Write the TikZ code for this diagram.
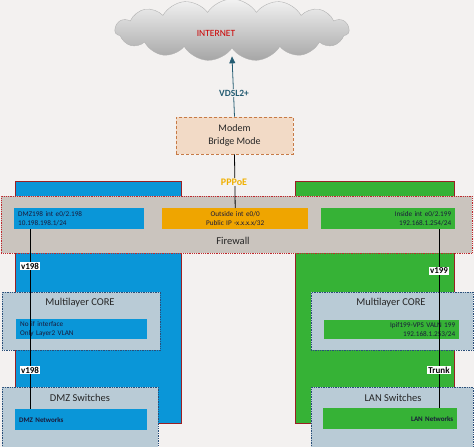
\documentclass[tikz,border=0pt]{standalone}
\usepackage{fontspec}
\setmainfont{Carlito}
\usetikzlibrary{shapes.symbols,arrows.meta}
\definecolor{bg}{HTML}{F3F1F0}
\definecolor{dmzblue}{HTML}{0A96D8}
\definecolor{langreen}{HTML}{36B236}
\definecolor{outorange}{HTML}{EFA500}
\definecolor{fwgrey}{HTML}{CAC4BE}
\definecolor{coregrey}{HTML}{B9CBD6}
\definecolor{modemfill}{HTML}{F2DAC6}
\definecolor{modemline}{HTML}{C77A45}
\definecolor{fwred}{HTML}{C0282D}
\definecolor{coreline}{HTML}{2A4F7A}
\definecolor{txtdark}{HTML}{1A1A3A}
\definecolor{teal}{HTML}{245C72}
\definecolor{pppoe}{HTML}{F0B000}
\tikzset{
  zone/.style={draw=fwred!80!black, line width=0.6pt, anchor=north west, inner sep=0pt},
  panel/.style={fill=coregrey, draw=coreline, densely dotted, line width=0.7pt, anchor=north west, inner sep=0pt},
  ibox/.style={anchor=north west, inner xsep=4pt, inner ysep=0pt, font=\fontsize{7.2}{8.6}\selectfont, text=txtdark},
  ttl/.style={font=\fontsize{10.5}{12}\selectfont, text=black!85},
  vlabel/.style={fill=white, font=\bfseries\fontsize{9}{10}\selectfont, inner sep=1pt},
  wire/.style={draw=black, line width=0.8pt}
}
\begin{document}
\begin{tikzpicture}[x=1pt,y=-1pt]
\useasboundingbox[fill=bg] (0,0) rectangle (474,447);

% cloud
\node[cloud, cloud puffs=15, cloud puff arc=115, aspect=3.9,
      minimum width=234pt, minimum height=62pt,
      top color=gray!10, bottom color=gray!70, draw=gray!60, line width=0.4pt] (cloud) at (232,30) {};
\node[text=red!80!black, font=\fontsize{9.5}{11}\selectfont] (inet) at (216,33) {INTERNET};

% modem
\node[fill=modemfill, draw=modemline, densely dashed, line width=0.6pt,
      minimum width=117pt, minimum height=37pt, align=center,
      font=\fontsize{10}{13}\selectfont, text=black!85] (modem) at (234.5,135.5) {Modem\\Bridge Mode};

% zones
\node[zone, fill=dmzblue, minimum width=166pt, minimum height=242pt] (dmzzone) at (15,181) {};
\node[zone, fill=langreen, minimum width=159pt, minimum height=242pt] (lanzone) at (295,181) {};

% firewall
\node[fill=fwgrey, draw=fwred, densely dotted, line width=0.8pt, anchor=north west, inner sep=0pt,
      minimum width=471pt, minimum height=57pt] (fw) at (1,196) {};
\node[ttl] (fwtitle) at (233,241) {Firewall};
\node[ibox, fill=dmzblue, minimum width=130pt, minimum height=21pt, text width=122pt, align=left] (dmzif) at (14,208) {DMZ198 int e0/2.198\\10.198.198.1/24};
\node[ibox, fill=outorange, minimum width=146pt, minimum height=21pt, text width=138pt, align=center] (outif) at (162,208) {Outside int e0/0\\Public IP -x.x.x.x/32};
\node[ibox, fill=langreen, minimum width=134pt, minimum height=21pt, text width=126pt, align=right] (inif) at (321,208) {Inside int e0/2.199\\192.168.1.254/24};

% cores
\node[panel, minimum width=158pt, minimum height=58pt] (coreL) at (2,292) {};
\node[ttl] (coreLt) at (80,303) {Multilayer CORE};
\node[ibox, fill=dmzblue, minimum width=131pt, minimum height=20pt, text width=123pt, align=left] (coreLif) at (16,319) {No if interface\\Only Layer2 VLAN};
\node[panel, minimum width=162pt, minimum height=58pt] (coreR) at (311,292) {};
\node[ttl] (coreRt) at (391,303) {Multilayer CORE};
\node[ibox, fill=langreen, minimum width=135pt, minimum height=19pt, text width=127pt, align=right] (coreRif) at (324,320) {Ipif199-VPS VALN 199\\192.168.1.253/24};

% switches
\node[panel, minimum width=156pt, minimum height=62pt] (swL) at (2,387) {};
\node[ttl] (swLt) at (80,398) {DMZ Switches};
\node[ibox, fill=dmzblue, minimum width=132pt, minimum height=21pt, text width=124pt, align=left, font=\bfseries\fontsize{7}{8}\selectfont] (swLif) at (15,409) {DMZ Networks};
\node[panel, minimum width=162pt, minimum height=62pt] (swR) at (311,387) {};
\node[ttl] (swRt) at (393,398) {LAN Switches};
\node[ibox, fill=langreen, minimum width=134pt, minimum height=21pt, text width=126pt, align=right, font=\bfseries\fontsize{7}{8}\selectfont] (swRif) at (323,408) {LAN Networks};

% connectors
\draw[wire, teal, -{Triangle[length=7pt,width=6pt]}] (modem.north) -- ([yshift=-8pt]cloud.south);
\node[font=\bfseries\fontsize{9.5}{11}\selectfont, text=teal, fill=bg, inner sep=1pt] (vdsl) at (234,93) {VDSL2+};
\draw[wire] (modem.south) -- (outif.north);
\node[font=\bfseries\fontsize{10}{11}\selectfont, text=pppoe, fill=bg, inner sep=1pt] (ppp) at (234,182) {PPPoE};

\coordinate (l1) at (30,229);
\coordinate (l2) at (30,409);
\draw[wire] (l1) -- (l2);
\coordinate (r1) at (439,229);
\coordinate (r2) at (439,408);
\draw[wire] (r1) -- (r2);
\node[vlabel] (v198a) at (30,266) {v198};
\node[vlabel] (v198b) at (30,370) {v198};
\node[vlabel] (v199) at (439,271) {v199};
\node[vlabel] (trunk) at (439,370) {Trunk};
\end{tikzpicture}
\end{document}
